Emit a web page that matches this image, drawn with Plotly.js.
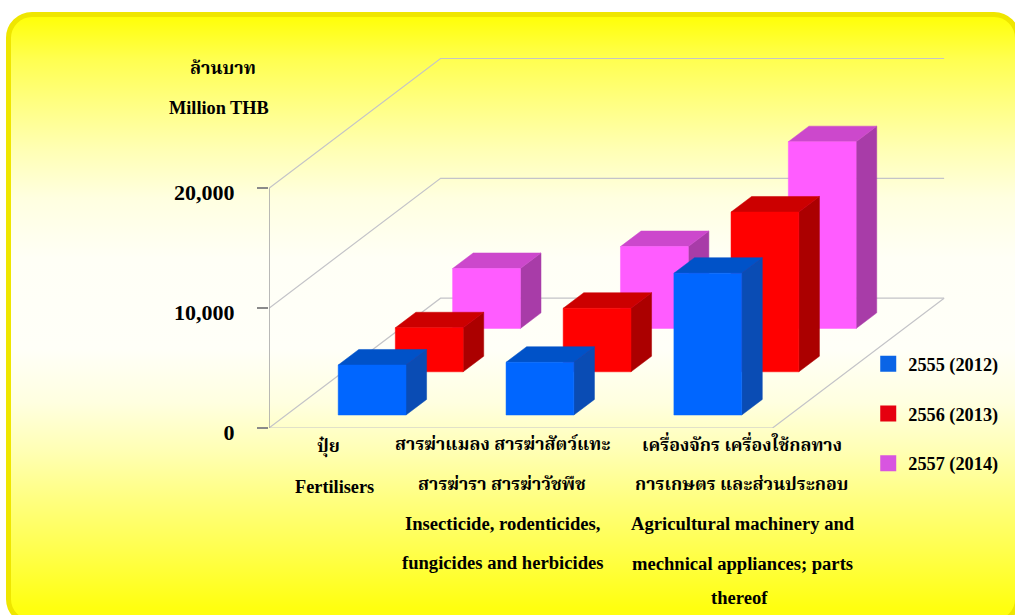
<!DOCTYPE html>
<html><head><meta charset="utf-8">
<script src="https://cdn.plot.ly/plotly-3.0.1.min.js"></script>
<style>
html,body{margin:0;padding:0;background:#fff;width:1015px;height:615px;overflow:hidden}
#panel{position:absolute;left:6px;top:12px;width:1004px;height:603px;box-sizing:content-box;border:5px solid #efe600;border-radius:26px;
background:linear-gradient(180deg,#ffff08 0%,#ffff50 7%,#ffff80 14%,#ffffb4 22%,#ffffe0 30%,#fffff6 40%,#fffff8 55%,#ffffe0 64%,#ffffb4 72%,#ffff80 80%,#ffff50 88%,#ffff10 98%,#ffff10 100%);}
#chart{position:absolute;left:0;top:0;width:1015px;height:615px}
</style></head><body>
<div id="panel"></div><div id="chart"></div>
<script>
const categories = ["Fertilisers", "Insecticide", "Machinery"];
const seriesNames = ["2555 (2012)", "2556 (2013)", "2557 (2014)"];
const values2555 = [4170, 4400, 11830];
const values2556 = [3670, 5300, 13330];
const values2557 = [5000, 6830, 15580];
const frontColors = ["#0066ff", "#ff0000", "#ff5cff"];
const topColors   = ["#0052c8", "#cc0000", "#cc48cc"];
const sideColors  = ["#0a4cb4", "#ab0000", "#a83ca8"];
const legendColors = ["#0a64e6", "#e6000f", "#d855e0"];
const tickValues = [0, 10000, 20000];
const tickLabels = ["0", "10,000", "20,000"];
const categoryLines = [
  ["ปุ๋ย", "Fertilisers"],
  ["สารฆ่าแมลง สารฆ่าสัตว์แทะ", "สารฆ่ารา สารฆ่าวัชพืช", "Insecticide, rodenticides,", "fungicides and herbicides"],
  ["เครื่องจักร เครื่องใช้กลทาง", "การเกษตร และส่วนประกอบ", "Agricultural machinery and", "mechnical appliances; parts", "thereof"]
];

const FONT = '"Liberation Serif","Noto Serif Thai","Noto Sans Thai","Tlwg Typo","Garuda",serif';
const allSeries = [values2555, values2556, values2557];
const depthX = 1.022, depthY = 10830;          // floor depth in axis units
const rowStart = [0.1, 0.433, 0.767], rowDepth = 0.12, halfW = 0.202, barShift = 0.012;
const P = (cat, z, v) => [cat + z * depthX, v + z * depthY];

function poly(points, store) {
  points.forEach(p => { store.x.push(p[0]); store.y.push(p[1]); });
  store.x.push(points[0][0], null); store.y.push(points[0][1], null);
}
const traces = [];
const gridColor = "#c4c4c8";
function gline(pts, color, w) {
  traces.push({type:"scatter", mode:"lines", x:pts.map(p=>p[0]), y:pts.map(p=>p[1]),
    line:{color:color||gridColor, width:w||1.2}, hoverinfo:"skip", showlegend:false, cliponaxis:false});
}
// walls and floor
tickValues.forEach(v => gline([P(-0.5,0,v), P(-0.5,1,v), P(2.5,1,v)]));
gline([P(-0.5,0,0), P(2.5,0,0), P(2.5,1,0)]);
gline([P(-0.5,0,0), P(-0.5,0,20000)], "#a8a8a8", 1.6);

// boxes, back row first
[2,1,0].forEach(s => {
  const side={x:[],y:[]}, top={x:[],y:[]}, front={x:[],y:[]};
  allSeries[s].forEach((v,c) => {
    const z0=rowStart[s], z1=z0+rowDepth, l=c-halfW+barShift, r=c+halfW+barShift;
    poly([P(r,z0,0),P(r,z1,0),P(r,z1,v),P(r,z0,v)], side);
    poly([P(l,z0,v),P(r,z0,v),P(r,z1,v),P(l,z1,v)], top);
    poly([P(l,z0,0),P(r,z0,0),P(r,z0,v),P(l,z0,v)], front);
  });
  [[side,sideColors],[top,topColors],[front,frontColors]].forEach(([d,cols]) => {
    traces.push({type:"scatter", mode:"lines", x:d.x, y:d.y, fill:"toself", fillcolor:cols[s],
      line:{width:0.5,color:cols[s]}, hoverinfo:"skip", showlegend:false, name:seriesNames[s]});
  });
});
// legend entries
seriesNames.forEach((n,s) => traces.push({type:"scatter", mode:"markers", x:[null], y:[null], name:n,
  legendgroup:n, marker:{symbol:"square", size:19, color:legendColors[s]}}));

const Y0 = 428.5;
const lineY = [[447,487],[444,484,524,563],[444,484,524,564,598]];
const lineX = [[329,335],[503,503,503,503],[743,743,744,744,741]];
const lineSize = [[17.8,18.3],[17.8,17.8,18.6,18.6],[17.8,17.8,18.6,18.6,18.6]];
const annotations = [];
categoryLines.forEach((lines,c) => lines.forEach((t,i) => annotations.push({
  text:"<b>"+t+"</b>", xref:"x", yref:"y", x:(lineX[c][i]-269)/168.33-0.5, y:0, yshift:Y0-lineY[c][i], showarrow:false,
  xanchor:"center", yanchor:"middle", font:{family:FONT,size:lineSize[c][i],color:"#000"}})));
annotations.push({text:"<b>ล้านบาท</b>", xref:"paper", yref:"y", x:(223-269)/731, y:0, yshift:Y0-68, showarrow:false,
  xanchor:"center", yanchor:"middle", font:{family:FONT,size:18,color:"#000"}});
annotations.push({text:"<b>Million THB</b>", xref:"paper", yref:"y", x:(219-269)/731, y:0, yshift:Y0-108, showarrow:false,
  xanchor:"center", yanchor:"middle", font:{family:FONT,size:18.3,color:"#000"}});

const layout = {
  width:1015, height:615, autosize:false,
  paper_bgcolor:"rgba(0,0,0,0)", plot_bgcolor:"rgba(0,0,0,0)",
  margin:{l:269, r:15, t:40, b:186.5, pad:0},
  xaxis:{range:[-0.5,3.843], visible:false, fixedrange:true},
  yaxis:{range:[0,32375], tickmode:"array", tickvals:tickValues, ticktext:tickLabels, ticks:"outside", ticklen:11, tickwidth:2,
    tickcolor:"#8a8a8a", showgrid:false, zeroline:false, showline:false, ticklabelstandoff:18, ticklabelshift:4, fixedrange:true,
    tickfont:{family:FONT,size:22,color:"#000",weight:700}},
  showlegend:true,
  legend:{x:0.822, y:0.213, xanchor:"left", yanchor:"top", bgcolor:"rgba(0,0,0,0)", borderwidth:0, tracegroupgap:23,
    itemwidth:30, font:{family:FONT,size:18.3,color:"#000",weight:700}},
  annotations:annotations
};
Plotly.newPlot("chart", traces, layout, {displayModeBar:false, staticPlot:true});
</script>
</body></html>
